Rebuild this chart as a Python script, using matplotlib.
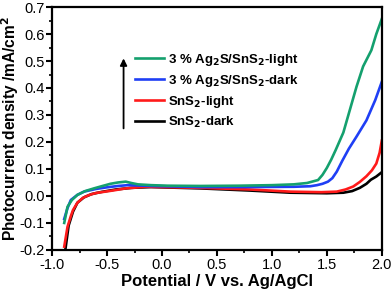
import matplotlib.pyplot as plt

plt.rcParams['font.family'] = ['Liberation Sans', 'DejaVu Sans']
plt.rcParams['font.weight'] = 'bold'
plt.rcParams['mathtext.default'] = 'bf'

# Potential (V vs Ag/AgCl) and photocurrent density (mA/cm2)
pot_ag_light = [-0.89, -0.86, -0.82, -0.77, -0.70, -0.62, -0.55, -0.47, -0.40, -0.33, -0.28, -0.22,
                -0.10, 0.05, 0.35, 0.70, 1.00, 1.20, 1.32, 1.42, 1.46, 1.50, 1.54, 1.58, 1.65,
                1.71, 1.77, 1.83, 1.905, 1.95, 2.0]
cur_ag_light = [-0.10, -0.04, -0.015, 0.004, 0.018, 0.028, 0.036, 0.045, 0.050, 0.053, 0.048, 0.043,
                0.040, 0.038, 0.037, 0.038, 0.040, 0.043, 0.048, 0.059, 0.078, 0.104, 0.135, 0.17, 0.235,
                0.32, 0.405, 0.48, 0.54, 0.60, 0.656]

pot_ag_dark = [-0.89, -0.86, -0.83, -0.77, -0.71, -0.60, -0.50, -0.40, -0.31, -0.10, 0.35, 0.80,
               1.20, 1.35, 1.41, 1.46, 1.51, 1.55, 1.59, 1.64, 1.70, 1.77, 1.86, 1.94, 2.0]
cur_ag_dark = [-0.085, -0.045, -0.015, 0.004, 0.016, 0.026, 0.032, 0.037, 0.040, 0.037, 0.033, 0.033,
               0.034, 0.036, 0.040, 0.045, 0.053, 0.066, 0.09, 0.13, 0.175, 0.22, 0.28, 0.355, 0.423]

pot_sn_light = [-0.89, -0.86, -0.83, -0.81, -0.77, -0.72, -0.66, -0.60, -0.45, -0.33, -0.15, 0.35,
                0.80, 1.17, 1.45, 1.59, 1.67, 1.74, 1.80, 1.86, 1.91, 1.95, 1.98, 2.0]
cur_sn_light = [-0.188, -0.114, -0.075, -0.052, -0.025, -0.007, 0.004, 0.011, 0.020, 0.028, 0.034, 0.030,
                0.024, 0.016, 0.014, 0.016, 0.024, 0.035, 0.052, 0.073, 0.095, 0.12, 0.16, 0.205]

pot_sn_dark = [-0.88, -0.85, -0.81, -0.77, -0.71, -0.64, -0.55, -0.42, -0.28, -0.10, 0.35, 0.80,
               1.17, 1.50, 1.65, 1.73, 1.80, 1.86, 1.90, 1.95, 2.0]
cur_sn_dark = [-0.20, -0.11, -0.058, -0.025, -0.005, 0.007, 0.015, 0.024, 0.030, 0.033, 0.028, 0.020,
               0.012, 0.010, 0.012, 0.018, 0.030, 0.045, 0.060, 0.072, 0.088]

labels = ['3 % Ag$_2$S/SnS$_2$-light', '3 % Ag$_2$S/SnS$_2$-dark', 'SnS$_2$-light', 'SnS$_2$-dark']
colors = ['#14a06e', '#1f3ff5', '#ff1a1a', '#000000']

fig = plt.figure(figsize=(3.92, 2.93), dpi=100)
ax = fig.add_axes([0.133, 0.147, 0.841, 0.829])

ax.plot(pot_sn_dark, cur_sn_dark, color=colors[3], lw=1.9, label=labels[3])
ax.plot(pot_sn_light, cur_sn_light, color=colors[2], lw=1.9, label=labels[2])
ax.plot(pot_ag_dark, cur_ag_dark, color=colors[1], lw=1.9, label=labels[1])
ax.plot(pot_ag_light, cur_ag_light, color=colors[0], lw=1.9, label=labels[0])

ax.set_xlim(-1.0, 2.0)
ax.set_ylim(-0.2, 0.7)
ax.set_xticks([-1.0, -0.5, 0.0, 0.5, 1.0, 1.5, 2.0])
ax.set_xticks([-0.75, -0.25, 0.25, 0.75, 1.25, 1.75], minor=True)
ax.set_yticks([-0.2, -0.1, 0.0, 0.1, 0.2, 0.3, 0.4, 0.5, 0.6, 0.7])
ax.set_yticks([-0.15, -0.05, 0.05, 0.15, 0.25, 0.35, 0.45, 0.55, 0.65], minor=True)
ax.set_xticklabels(['-1.0', '-0.5', '0.0', '0.5', '1.0', '1.5', '2.0'], fontweight='normal')
ax.set_yticklabels(['-0.2', '-0.1', '0.0', '0.1', '0.2', '0.3', '0.4', '0.5', '0.6', '0.7'],
                   fontweight='normal')
ax.tick_params(which='major', direction='out', length=4, width=1.5, labelsize=10.5, pad=1.5)
ax.tick_params(which='minor', direction='out', length=2.5, width=1.2)
for s in ax.spines.values():
    s.set_linewidth(1.6)

ax.set_xlabel('Potential / V vs. Ag/AgCl', fontsize=12, fontweight='bold', labelpad=2)
ax.set_ylabel('Photocurrent density /mA/cm$^2$', fontsize=11.2, fontweight='bold')
ax.yaxis.set_label_coords(-0.095, 0.5)

h, l = ax.get_legend_handles_labels()
ax.legend(h[::-1], l[::-1], loc='upper left', bbox_to_anchor=(0.25, 0.815), frameon=False,
          prop={'size': 9.5, 'weight': 'bold'}, handlelength=2.2, handletextpad=0.3,
          labelspacing=0.38, borderpad=0, borderaxespad=0)

ax.annotate('', xy=(-0.35, 0.52), xytext=(-0.35, 0.24),
            arrowprops=dict(arrowstyle='-|>', color='black', lw=1.3, mutation_scale=10))

fig.savefig('out.png', dpi=100)
